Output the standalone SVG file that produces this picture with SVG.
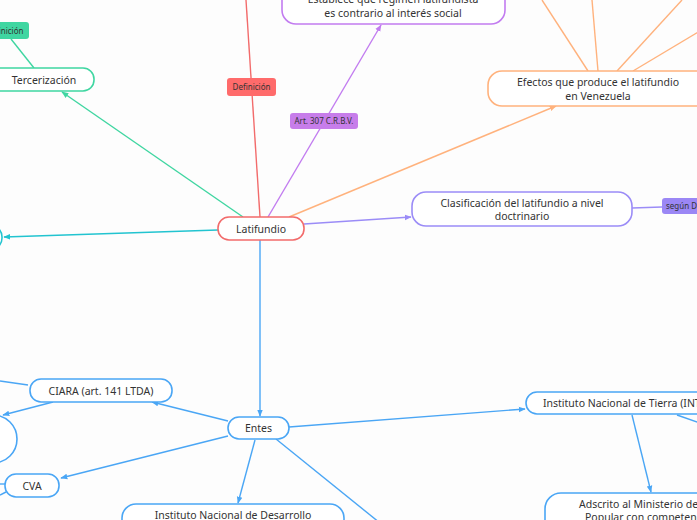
<svg xmlns="http://www.w3.org/2000/svg" width="697" height="520" viewBox="0 0 697 520">
<style>
.n{fill:#fff;stroke-width:1.6}
.t{font-family:"Noto Sans","Open Sans",sans-serif;font-size:10.5px;fill:#333;text-anchor:middle}
.s{font-family:"Noto Sans","Open Sans",sans-serif;font-size:8px;fill:#333;text-anchor:middle}
.c{fill:none;stroke-width:1.4}
.red{stroke:#f26b6b}.grn{stroke:#3fd6a1}.pur{stroke:#c27cf0}.lav{stroke:#9b8cf7}.org{stroke:#ffb27d}.blu{stroke:#4aa6f5}.cyn{stroke:#22c4d0}
</style>
<defs>
<marker id="aG" viewBox="0 0 10 10" refX="9" refY="5" markerWidth="7" markerHeight="7" orient="auto" markerUnits="userSpaceOnUse"><path d="M0,1 L10,5 L0,9 z" fill="#3fd6a1"/></marker>
<marker id="aP" viewBox="0 0 10 10" refX="9" refY="5" markerWidth="7" markerHeight="7" orient="auto" markerUnits="userSpaceOnUse"><path d="M0,1 L10,5 L0,9 z" fill="#c27cf0"/></marker>
<marker id="aL" viewBox="0 0 10 10" refX="9" refY="5" markerWidth="7" markerHeight="7" orient="auto" markerUnits="userSpaceOnUse"><path d="M0,1 L10,5 L0,9 z" fill="#9b8cf7"/></marker>
<marker id="aO" viewBox="0 0 10 10" refX="9" refY="5" markerWidth="7" markerHeight="7" orient="auto" markerUnits="userSpaceOnUse"><path d="M0,1 L10,5 L0,9 z" fill="#ffb27d"/></marker>
<marker id="aB" viewBox="0 0 10 10" refX="9" refY="5" markerWidth="7" markerHeight="7" orient="auto" markerUnits="userSpaceOnUse"><path d="M0,1 L10,5 L0,9 z" fill="#4aa6f5"/></marker>
<marker id="aC" viewBox="0 0 10 10" refX="9" refY="5" markerWidth="7" markerHeight="7" orient="auto" markerUnits="userSpaceOnUse"><path d="M0,1 L10,5 L0,9 z" fill="#22c4d0"/></marker>
</defs>
<rect width="697" height="520" fill="#fdfdfd"/>
<g id="connectors">
<line class="c red" x1="246" y1="0" x2="260" y2="217"/>
<line class="c grn" x1="11" y1="39" x2="34" y2="68"/>
<line class="c grn" x1="243" y1="217" x2="62" y2="92" marker-end="url(#aG)"/>
<line class="c pur" x1="268" y1="217" x2="381" y2="25" marker-end="url(#aP)"/>
<line class="c org" x1="289" y1="217" x2="556" y2="106" marker-end="url(#aO)"/>
<line class="c org" x1="588" y1="71" x2="542" y2="0"/>
<line class="c org" x1="598" y1="71" x2="592" y2="0"/>
<line class="c org" x1="617" y1="71" x2="682" y2="0"/>
<line class="c org" x1="633" y1="71" x2="700" y2="31"/>
<line class="c lav" x1="304" y1="224" x2="411" y2="217" marker-end="url(#aL)"/>
<line class="c lav" x1="632" y1="208" x2="662" y2="207"/>
<line class="c cyn" x1="218" y1="230" x2="4" y2="237" marker-end="url(#aC)"/>
<line class="c blu" x1="260" y1="240" x2="260" y2="416" marker-end="url(#aB)"/>
<line class="c blu" x1="228" y1="421" x2="152" y2="402" marker-end="url(#aB)"/>
<line class="c blu" x1="28" y1="385" x2="0" y2="381"/>
<line class="c blu" x1="53" y1="402" x2="3" y2="415" marker-end="url(#aB)"/>
<line class="c blu" x1="228" y1="436" x2="61" y2="478" marker-end="url(#aB)"/>
<line class="c blu" x1="5" y1="484" x2="0" y2="484"/>
<line class="c blu" x1="6" y1="492" x2="0" y2="495"/>
<line class="c blu" x1="255" y1="440" x2="238" y2="503" marker-end="url(#aB)"/>
<line class="c blu" x1="276" y1="439" x2="380" y2="523"/>
<line class="c blu" x1="289" y1="427" x2="525" y2="409" marker-end="url(#aB)"/>
<line class="c blu" x1="632" y1="415" x2="651" y2="492" marker-end="url(#aB)"/>
<line class="c blu" x1="677" y1="415" x2="700" y2="423"/>
</g>
<g id="lbl-definicion-red"><rect x="227" y="78" width="49" height="18" rx="3" fill="#ff6b6b"/><text class="s" x="251.5" y="90">Definición</text></g>
<g id="lbl-art307"><rect x="290" y="113" width="68" height="16" rx="3" fill="#c77dea"/><text class="s" x="324" y="124">Art. 307 C.R.B.V.</text></g>
<g id="lbl-definicion-green"><rect x="-20" y="22" width="49" height="17" rx="3" fill="#3fd6a1"/><text class="s" x="4.5" y="33.5">Definición</text></g>
<g id="lbl-segun"><rect x="662" y="198" width="60" height="16" rx="3" fill="#9b87f5"/><text class="s" x="666" y="209" style="text-anchor:start">según Doctrina</text></g>
<g id="latifundio"><rect class="n red" x="218" y="217" width="86" height="23" rx="11"/><text class="t" x="261" y="232.5">Latifundio</text></g>
<g id="tercerizacion"><rect class="n grn" x="-30" y="68" width="124" height="23" rx="11"/><text class="t" x="44" y="83.5">Tercerización</text></g>
<g id="establece"><rect class="n pur" x="282" y="-22" width="223" height="46" rx="14"/><text class="t" x="393" y="3">Establece que régimen latifundista</text><text class="t" x="393" y="17">es contrario al interés social</text></g>
<g id="efectos"><rect class="n org" x="488" y="71" width="222" height="35" rx="14"/><text class="t" x="598" y="86">Efectos que produce el latifundio</text><text class="t" x="598" y="99.5">en Venezuela</text></g>
<g id="clasificacion"><rect class="n lav" x="412" y="192" width="220" height="34" rx="14"/><text class="t" x="522" y="207">Clasificación del latifundio a nivel</text><text class="t" x="522" y="220">doctrinario</text></g>
<g id="cyan-node"><rect class="n cyn" x="-60" y="225" width="62" height="25" rx="12"/></g>
<g id="entes"><rect class="n blu" x="228" y="417" width="61" height="22" rx="11"/><text class="t" x="258.5" y="432">Entes</text></g>
<g id="ciara"><rect class="n blu" x="30" y="379" width="142" height="23" rx="11"/><text class="t" x="101" y="394.5">CIARA (art. 141 LTDA)</text></g>
<g id="left-node"><rect class="n blu" x="-100" y="415" width="117" height="48" rx="24"/></g>
<g id="cva"><rect class="n blu" x="5" y="474" width="54" height="23" rx="11"/><text class="t" x="32" y="489.5">CVA</text></g>
<g id="ind"><rect class="n blu" x="122" y="504" width="222" height="40" rx="14"/><text class="t" x="233" y="519">Instituto Nacional de Desarrollo</text></g>
<g id="inti"><rect class="n blu" x="526" y="392" width="200" height="22" rx="11"/><text class="t" x="543" y="407" style="text-anchor:start">Instituto Nacional de Tierra (INTi)</text></g>
<g id="adscrito"><rect class="n blu" x="545" y="493" width="220" height="50" rx="16"/><text class="t" x="579" y="508" style="text-anchor:start">Adscrito al Ministerio del Poder</text><text class="t" x="585" y="521" style="text-anchor:start">Popular con competencia en</text></g>
</svg>
